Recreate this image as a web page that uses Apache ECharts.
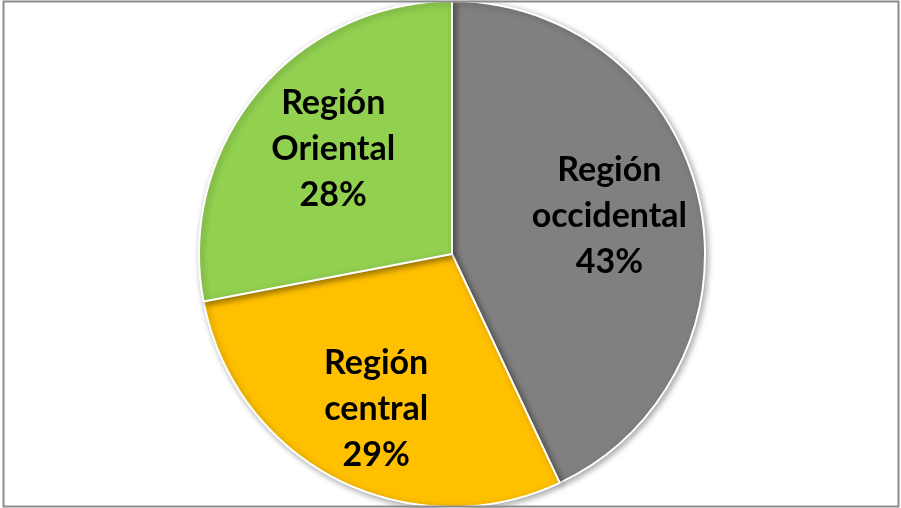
<!DOCTYPE html>
<html>
<head>
<meta charset="utf-8">
<script src="https://cdn.jsdelivr.net/npm/echarts@6/dist/echarts.min.js"></script>
<style>
  html, body { margin: 0; padding: 0; background: #fff; }
  #chart { width: 901px; height: 508px; }
</style>
</head>
<body>
<div id="chart"></div>
<script>
// Regional share, clockwise from 12 o'clock
const regions = ['Región\noccidental', 'Región\ncentral', 'Región\nOriental'];
const shares = [43, 29, 28];
const colors = ['#808080', '#FFC000', '#92D050'];
// nudges that push each label outward from the default inner spot
const labelNudges = [[31, -10], [-17, 40], [-19, -22]];

const chart = echarts.init(document.getElementById('chart'), null, { renderer: 'canvas' });

chart.setOption({
  animation: false,
  graphic: [{
    type: 'rect',
    shape: { x: 3.5, y: 1.5, width: 895, height: 505 },
    style: { fill: 'none', stroke: '#8c8c8c', lineWidth: 2 },
    z: 10
  }],
  series: [{
    type: 'pie',
    center: [452, 254],
    radius: [0, 253],
    startAngle: 90,
    clockwise: true,
    data: regions.map((name, i) => ({
      name: name,
      value: shares[i],
      itemStyle: { color: colors[i] },
      label: { offset: labelNudges[i] }
    })),
    itemStyle: {
      borderColor: '#ffffff',
      borderWidth: 2,
      shadowBlur: 6,
      shadowOffsetX: 2,
      shadowOffsetY: 2,
      shadowColor: 'rgba(0,0,0,0.35)'
    },
    label: {
      show: true,
      position: 'inner',
      formatter: p => p.name + '\n' + p.value + '%',
      fontFamily: 'Lato',
      fontWeight: 'bold',
      fontSize: 34,
      lineHeight: 46,
      color: '#000',
      align: 'center'
    },
    labelLine: { show: false },
    emphasis: { disabled: true }
  }]
});
</script>
</body>
</html>
